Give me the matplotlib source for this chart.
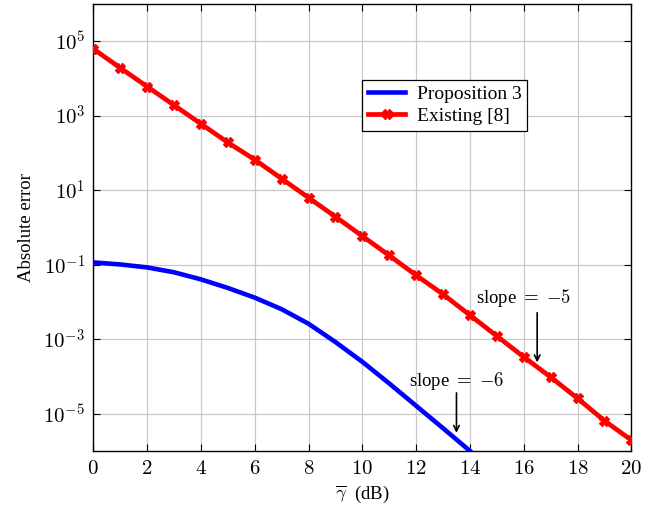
import numpy as np
import matplotlib
matplotlib.use("Agg")
import matplotlib.pyplot as plt

# log10 of absolute error
snr_db = list(range(0, 21))
existing_log = [4.79, 4.28, 3.78, 3.28, 2.78, 2.28, 1.82, 1.31, 0.80, 0.29, -0.23,
                -0.75, -1.28, -1.79, -2.35, -2.91, -3.47, -4.01, -4.58, -5.18, -5.70]
prop_db = list(range(0, 15))
prop_log = [-0.936, -0.99, -1.07, -1.20, -1.39, -1.62, -1.88, -2.19, -2.58, -3.07,
            -3.60, -4.18, -4.78, -5.38, -5.99]

ytick_exp = [-5, -3, -1, 1, 3, 5]
xticks = list(range(0, 21, 2))

plt.rcParams['font.family'] = ['Liberation Serif', 'DejaVu Serif']
plt.rcParams['mathtext.fontset'] = 'cm'

fig = plt.figure(figsize=(6.64, 5.08), dpi=100)
ax = fig.add_axes([0.1405, 0.1116, 0.8103, 0.8811])

ax.plot(prop_db, 10.0 ** np.array(prop_log), color='#0000ff', lw=3.3,
        label='Proposition 3', zorder=3)
ax.plot(snr_db, 10.0 ** np.array(existing_log), color='#ff0000', lw=3.4,
        marker='X', markersize=6.5, label='Existing [8]', zorder=3)

ax.set_yscale('log')
ax.set_xlim(0, 20)
ax.set_ylim(1e-6, 1e6)
ax.set_xticks(xticks)
ax.set_xticklabels([f'${t}$' for t in xticks])
ax.set_yticks([10.0 ** e for e in ytick_exp])
ax.set_yticklabels([f'$10^{{{e}}}$' for e in ytick_exp])
ax.yaxis.set_minor_locator(matplotlib.ticker.NullLocator())
ax.tick_params(direction='in', top=True, right=True, length=5, width=0.8,
               labelsize=15, pad=6)
ax.grid(True, color='#c8c8c8', lw=0.9)
ax.set_axisbelow(True)
for s in ax.spines.values():
    s.set_linewidth(1.0)

ax.set_xlabel(r'$\overline{\gamma}$  (dB)', fontsize=13.5, labelpad=4)
ax.set_ylabel('Absolute error', fontsize=13.5, labelpad=6)

# slope annotations
ax.annotate('', xy=(16.5, 10 ** -3.69), xytext=(16.5, 10 ** -2.21),
            arrowprops=dict(arrowstyle='->', lw=1.2, color='black'))
ax.text(16.0, 10 ** -1.88, r'slope $=$ $-5$', ha='center', va='center', fontsize=13.5)
ax.annotate('', xy=(13.5, 10 ** -5.58), xytext=(13.5, 10 ** -4.36),
            arrowprops=dict(arrowstyle='->', lw=1.2, color='black'))
ax.text(13.49, 10 ** -4.11, r'slope $=$ $-6$', ha='center', va='center', fontsize=13.5)

leg = ax.legend(loc='upper left', bbox_to_anchor=(0.50, 0.83), fontsize=14,
                frameon=True, fancybox=False, framealpha=1, edgecolor='black',
                handlelength=1.9, borderpad=0.3, labelspacing=0.2,
                handletextpad=0.6, borderaxespad=0)
leg.get_frame().set_linewidth(0.9)

fig.savefig('out.png', dpi=100)
